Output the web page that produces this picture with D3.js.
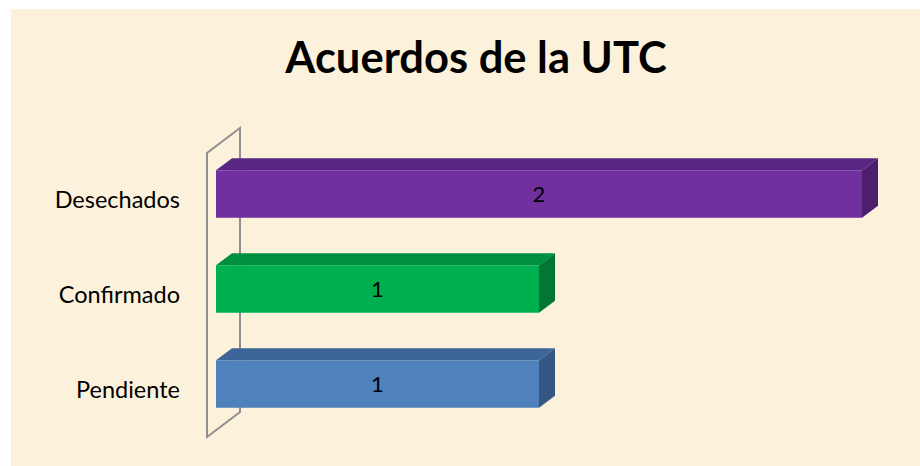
<!DOCTYPE html>
<html>
<head>
<meta charset="utf-8">
<script src="https://cdn.jsdelivr.net/npm/d3@7"></script>
<style>
  body { margin: 0; background: #fff; }
  text { font-family: Lato, "Open Sans", sans-serif; }
</style>
</head>
<body>
<div id="chart"></div>
<script>
var categories = ["Desechados", "Confirmado", "Pendiente"];
var values = [2, 1, 1];
var frontColors = ["#7030a0", "#00b050", "#4f81bd"];
var topColors = ["#5a2684", "#008f40", "#3e6598"];
var sideColors = ["#4b1f6e", "#007834", "#345784"];

var width = 920, height = 466;

var svg = d3.select("#chart").append("svg")
  .attr("width", width)
  .attr("height", height);

// parchment background
svg.append("rect")
  .attr("x", 11).attr("y", 9)
  .attr("width", width - 11).attr("height", height - 9)
  .attr("fill", "#fcf2dc");

svg.append("text")
  .attr("x", 476).attr("y", 73)
  .attr("text-anchor", "middle")
  .attr("font-size", 43.5)
  .attr("font-weight", "bold")
  .attr("fill", "#000")
  .text("Acuerdos de la UTC");

var x = d3.scaleLinear().domain([0, 2]).range([216, 862]);
var y = d3.scaleBand().domain(categories)
  .range([146.5, 431.5]).paddingInner(0.5).paddingOuter(0.25);

var dx = 16, dy = 12;

// side wall of the 3d plot
var wx0 = x(0) - 9, wx1 = wx0 + 33;
var wyTop = y.range()[0] + 6.5, wyBot = y.range()[1] + 5.5;
svg.append("path")
  .attr("d", `M${wx0},${wyTop} L${wx1},${wyTop - 25} L${wx1},${wyBot - 25} L${wx0},${wyBot} Z`)
  .attr("fill", "none")
  .attr("stroke", "#8f8f8f")
  .attr("stroke-width", 2);

var bars = svg.selectAll(".bar")
  .data(categories)
  .enter().append("g")
  .attr("class", "bar");

bars.append("path")
  .attr("d", (d, i) => {
    var x0 = x(0), x1 = x(values[i]), t = y(d);
    return `M${x0},${t} L${x0 + dx},${t - dy} L${x1 + dx},${t - dy} L${x1},${t} Z`;
  })
  .attr("fill", (d, i) => topColors[i]);

bars.append("path")
  .attr("d", (d, i) => {
    var x1 = x(values[i]), t = y(d), b = t + y.bandwidth();
    return `M${x1},${t} L${x1 + dx},${t - dy} L${x1 + dx},${b - dy} L${x1},${b} Z`;
  })
  .attr("fill", (d, i) => sideColors[i]);

bars.append("rect")
  .attr("x", x(0))
  .attr("y", d => y(d))
  .attr("width", (d, i) => x(values[i]) - x(0))
  .attr("height", y.bandwidth())
  .attr("fill", (d, i) => frontColors[i]);

bars.append("text")
  .attr("x", (d, i) => (x(0) + x(values[i])) / 2)
  .attr("y", d => y(d) + y.bandwidth() / 2 + 8)
  .attr("text-anchor", "middle")
  .attr("font-size", 22)
  .attr("fill", "#000")
  .text((d, i) => values[i]);

svg.selectAll(".cat")
  .data(categories)
  .enter().append("text")
  .attr("class", "cat")
  .attr("x", 180)
  .attr("y", d => y(d) + y.bandwidth() / 2 + 14)
  .attr("text-anchor", "end")
  .attr("font-size", 23.5)
  .attr("fill", "#000")
  .text(d => d);
</script>
</body>
</html>
